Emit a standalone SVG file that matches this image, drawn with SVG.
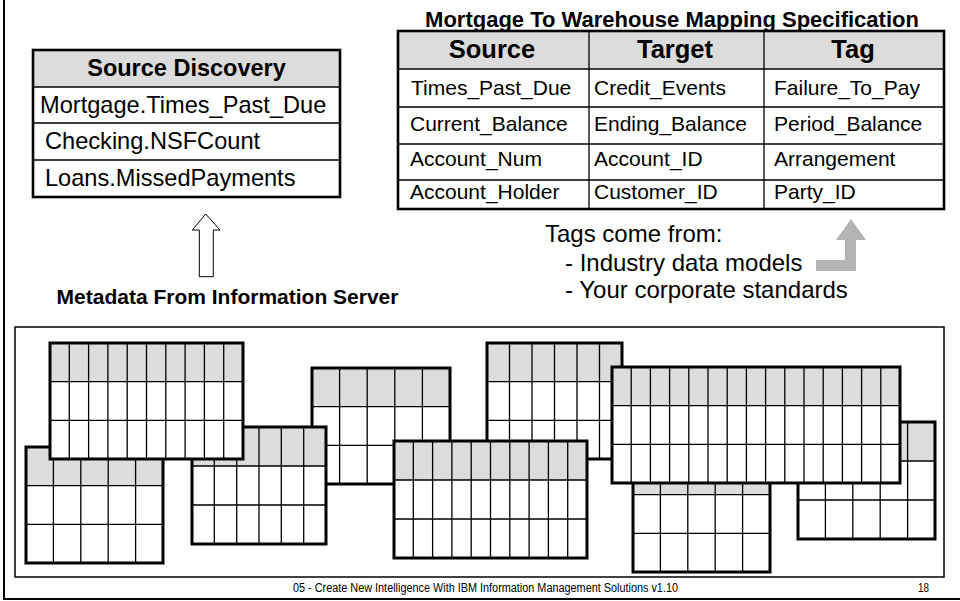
<svg xmlns="http://www.w3.org/2000/svg" width="960" height="601" viewBox="0 0 960 601">
<style>
text{font-family:"Liberation Sans",Arial,sans-serif;fill:#000}
.b{font-weight:bold}
.hd{fill:#dcdcdc}
.bg{fill:#fff}
.in{fill:none;stroke:#000;stroke-width:1.3}
.out{fill:none;stroke:#000;stroke-width:3}
.tout{fill:none;stroke:#000;stroke-width:2.6}
.cell{font-size:21px}
.sd{font-size:23.6px}
</style>
<rect width="960" height="601" fill="#fff"/>
<path d="M4 0V599H960" fill="none" stroke="#000" stroke-width="2"/>

<g id="source-discovery">
<rect class="bg" x="33" y="50" width="307" height="147"/>
<rect class="hd" x="33" y="50" width="307" height="37"/>
<path class="in" d="M33 87H340M33 123H340M33 160H340"/>
<rect class="tout" x="33" y="50" width="307" height="147"/>
<text class="b" x="186.5" y="76" font-size="23.5" text-anchor="middle">Source Discovery</text>
<text class="sd" x="40" y="113">Mortgage.Times_Past_Due</text>
<text class="sd" x="45" y="149">Checking.NSFCount</text>
<text class="sd" x="45" y="186">Loans.MissedPayments</text>
</g>

<g id="mapping-spec">
<text class="b" x="672" y="27" font-size="22" text-anchor="middle">Mortgage To Warehouse Mapping Specification</text>
<rect class="bg" x="398" y="31" width="546" height="178"/>
<rect class="hd" x="398" y="31" width="546" height="38"/>
<path class="in" d="M398 69H944M398 107H944M398 144H944M398 180H944M589 31V209M764 31V209"/>
<rect class="tout" x="398" y="31" width="546" height="178"/>
<text class="b" x="492" y="58" font-size="25.5" text-anchor="middle">Source</text>
<text class="b" x="675" y="58" font-size="25.5" text-anchor="middle">Target</text>
<text class="b" x="853" y="58" font-size="25.5" text-anchor="middle">Tag</text>
<text class="cell" x="411" y="95">Times_Past_Due</text>
<text class="cell" x="594" y="95">Credit_Events</text>
<text class="cell" x="774" y="95">Failure_To_Pay</text>
<text class="cell" x="410" y="131">Current_Balance</text>
<text class="cell" x="594" y="131">Ending_Balance</text>
<text class="cell" x="774" y="131">Period_Balance</text>
<text class="cell" x="410" y="166">Account_Num</text>
<text class="cell" x="594" y="166">Account_ID</text>
<text class="cell" x="774" y="166">Arrangement</text>
<text class="cell" x="410" y="199">Account_Holder</text>
<text class="cell" x="594" y="199">Customer_ID</text>
<text class="cell" x="774" y="199">Party_ID</text>
</g>

<g id="connectors">
<path d="M205.7 214L220 230H213.3V276.7H199.3V230H192.3Z" fill="#fff" stroke="#000" stroke-width="1"/>
<path d="M851 219L866 240H856V271H816V260H845V240H836Z" fill="#b3b3b3"/>
</g>

<g id="metadata-label">
<text class="b" x="227.5" y="304" font-size="21" text-anchor="middle">Metadata From Information Server</text>
</g>

<g id="tags-note">
<text x="545" y="242" font-size="24">Tags come from:</text>
<text x="565" y="271" font-size="24">- Industry data models</text>
<text x="565" y="298" font-size="24">- Your corporate standards</text>
</g>

<g id="database-tables">
<rect x="15" y="327" width="929" height="250" fill="none" stroke="#000" stroke-width="1.5"/>

<g id="grid-d">
<rect class="bg" x="312" y="368" width="138" height="116"/>
<rect class="hd" x="312" y="368" width="138" height="38.7"/>
<path class="in" d="M339.6 368V484M367.2 368V484M394.8 368V484M422.4 368V484M312 406.7H450M312 445.3H450"/>
<rect class="out" x="312" y="368" width="138" height="116"/>
</g>
<g id="grid-c">
<rect class="bg" x="192" y="427" width="134" height="117"/>
<rect class="hd" x="192" y="427" width="134" height="39"/>
<path class="in" d="M214.3 427V544M236.7 427V544M259 427V544M281.3 427V544M303.7 427V544M192 466H326M192 505H326"/>
<rect class="out" x="192" y="427" width="134" height="117"/>
</g>
<g id="grid-b">
<rect class="bg" x="26" y="447" width="137" height="116"/>
<rect class="hd" x="26" y="447" width="137" height="38.7"/>
<path class="in" d="M53.4 447V563M80.8 447V563M108.2 447V563M135.6 447V563M26 485.7H163M26 524.3H163"/>
<rect class="out" x="26" y="447" width="137" height="116"/>
</g>
<g id="grid-a">
<rect class="bg" x="50" y="343" width="193" height="116"/>
<rect class="hd" x="50" y="343" width="193" height="38.7"/>
<path class="in" d="M69.3 343V459M88.6 343V459M107.9 343V459M127.2 343V459M146.5 343V459M165.8 343V459M185.1 343V459M204.4 343V459M223.7 343V459M50 381.7H243M50 420.3H243"/>
<rect class="out" x="50" y="343" width="193" height="116"/>
</g>
<g id="grid-f">
<rect class="bg" x="487" y="343" width="135" height="116"/>
<rect class="hd" x="487" y="343" width="135" height="38.7"/>
<path class="in" d="M509.5 343V459M532 343V459M554.5 343V459M577 343V459M599.5 343V459M487 381.7H622M487 420.3H622"/>
<rect class="out" x="487" y="343" width="135" height="116"/>
</g>
<g id="grid-e">
<rect class="bg" x="394" y="441" width="193" height="117"/>
<rect class="hd" x="394" y="441" width="193" height="39"/>
<path class="in" d="M413.3 441V558M432.6 441V558M451.9 441V558M471.2 441V558M490.5 441V558M509.8 441V558M529.1 441V558M548.4 441V558M567.7 441V558M394 480H587M394 519H587"/>
<rect class="out" x="394" y="441" width="193" height="117"/>
</g>
<g id="grid-h">
<rect class="bg" x="633" y="456" width="137" height="116"/>
<rect class="hd" x="633" y="456" width="137" height="38.7"/>
<path class="in" d="M660.4 456V572M687.8 456V572M715.2 456V572M742.6 456V572M633 494.7H770M633 533.3H770"/>
<rect class="out" x="633" y="456" width="137" height="116"/>
</g>
<g id="grid-i">
<rect class="bg" x="798" y="422" width="137" height="117"/>
<rect class="hd" x="798" y="422" width="137" height="39"/>
<path class="in" d="M825.4 422V539M852.8 422V539M880.2 422V539M907.6 422V539M798 461H935M798 500H935"/>
<rect class="out" x="798" y="422" width="137" height="117"/>
</g>
<g id="grid-g">
<rect class="bg" x="612" y="367" width="288" height="116"/>
<rect class="hd" x="612" y="367" width="288" height="38.7"/>
<path class="in" d="M631.2 367V483M650.4 367V483M669.6 367V483M688.8 367V483M708 367V483M727.2 367V483M746.4 367V483M765.6 367V483M784.8 367V483M804 367V483M823.2 367V483M842.4 367V483M861.6 367V483M880.8 367V483M612 405.7H900M612 444.3H900"/>
<rect class="out" x="612" y="367" width="288" height="116"/>
</g>
</g>

<g id="footer">
<text x="293" y="591.5" font-size="12.5" fill="#222" textLength="385" lengthAdjust="spacingAndGlyphs">05 - Create New Intelligence With IBM Information Management Solutions v1.10</text>
<text x="918" y="591.5" font-size="12.5" fill="#222" textLength="11" lengthAdjust="spacingAndGlyphs">18</text>
</g>
</svg>
